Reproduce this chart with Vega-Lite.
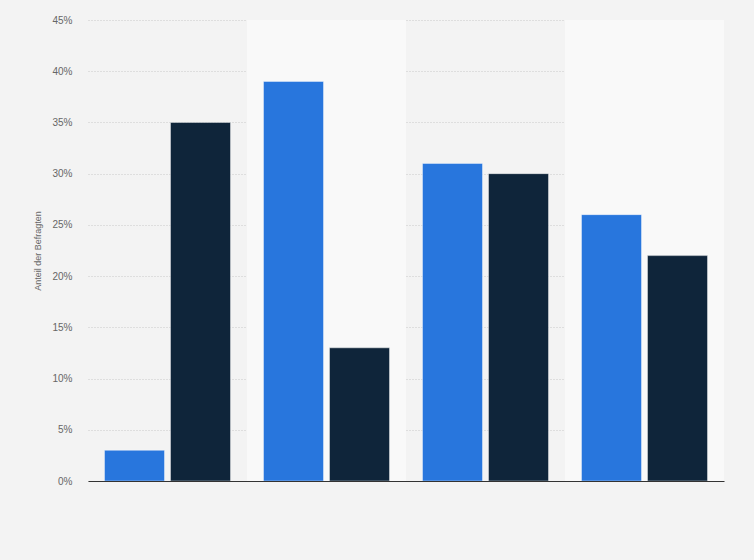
{
  "$schema": "https://vega.github.io/schema/vega-lite/v6.json",
  "autosize": "none",
  "width": 636,
  "height": 461,
  "padding": {"left": 88, "top": 20, "right": 30, "bottom": 79},
  "background": "#f3f3f3",
  "data": {
    "values": [
      {"kategorie": "Kategorie 1", "serie": "Serie 1", "anteil": 3},
      {"kategorie": "Kategorie 1", "serie": "Serie 2", "anteil": 35},
      {"kategorie": "Kategorie 2", "serie": "Serie 1", "anteil": 39},
      {"kategorie": "Kategorie 2", "serie": "Serie 2", "anteil": 13},
      {"kategorie": "Kategorie 3", "serie": "Serie 1", "anteil": 31},
      {"kategorie": "Kategorie 3", "serie": "Serie 2", "anteil": 30},
      {"kategorie": "Kategorie 4", "serie": "Serie 1", "anteil": 26},
      {"kategorie": "Kategorie 4", "serie": "Serie 2", "anteil": 22}
    ]
  },
  "encoding": {
    "x": {
      "field": "kategorie",
      "type": "nominal",
      "scale": {"paddingInner": 0, "paddingOuter": 0},
      "axis": {
        "title": null,
        "labels": false,
        "ticks": false,
        "domainColor": "#333333",
        "domainWidth": 1.2
      }
    }
  },
  "layer": [
    {
      "transform": [{"filter": "datum.kategorie == 'Kategorie 2' || datum.kategorie == 'Kategorie 4'"}],
      "mark": {"type": "rect", "color": "#f9f9f9"},
      "encoding": {}
    },
    {
      "mark": {"type": "bar", "stroke": "#ffffff", "strokeWidth": 0.6, "strokeOpacity": 0.7},
      "encoding": {
        "xOffset": {
          "field": "serie",
          "type": "nominal",
          "scale": {"paddingInner": 0.0909, "paddingOuter": 0.25}
        },
        "y": {
          "field": "anteil",
          "type": "quantitative",
          "scale": {"domain": [0, 45]},
          "axis": {
            "title": "Anteil der Befragten",
            "titleFont": "Liberation Sans",
            "titleFontSize": 9,
            "titleFontWeight": "normal",
            "titleColor": "#666666",
            "titlePadding": 9,
            "values": [0, 5, 10, 15, 20, 25, 30, 35, 40, 45],
            "labelExpr": "datum.value + '%'",
            "labelFont": "Liberation Sans",
            "labelFontSize": 10,
            "labelColor": "#666666",
            "labelPadding": 16,
            "ticks": false,
            "domain": false,
            "gridColor": "#c8c8c8",
            "gridDash": [1, 2],
            "gridWidth": 1
          }
        },
        "color": {
          "field": "serie",
          "type": "nominal",
          "scale": {"range": ["#2876dd", "#0f253a"]},
          "legend": null
        }
      }
    }
  ],
  "config": {"view": {"stroke": null}}
}
